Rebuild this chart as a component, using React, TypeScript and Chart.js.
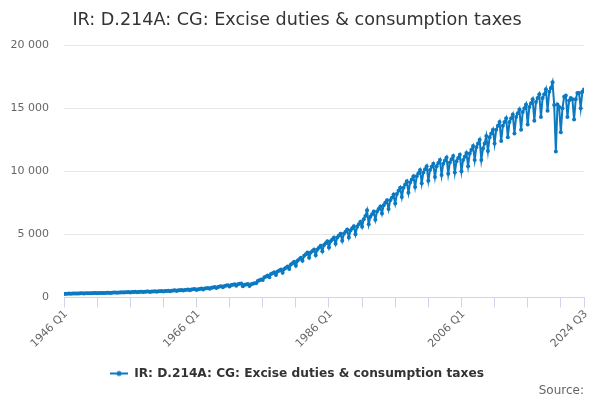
import { useEffect, useRef } from "react"
import { Chart, registerables } from "chart.js"

Chart.register(...registerables)

// quarterly values, £m (one row per year, Q1..Q4)
const excise: number[] = [
  270, 285, 290, 300, // 1946
  290, 305, 310, 315,
  300, 315, 320, 325,
  310, 320, 330, 335,
  320, 330, 340, 345, // 1950
  325, 345, 350, 355,
  340, 355, 365, 370,
  350, 370, 380, 385,
  365, 385, 395, 400,
  380, 400, 410, 420, // 1955
  395, 420, 430, 440,
  410, 435, 445, 455,
  420, 450, 460, 470,
  435, 465, 475, 490,
  450, 480, 495, 510, // 1960
  465, 500, 515, 530,
  490, 530, 545, 560,
  515, 560, 575, 590,
  540, 590, 610, 630,
  570, 620, 640, 665, // 1965
  590, 650, 675, 700,
  630, 700, 725, 750,
  680, 760, 790, 820,
  740, 830, 860, 890,
  800, 900, 935, 970, // 1970
  870, 980, 1010, 1050,
  930, 1050, 1080, 1110,
  890, 1000, 1030, 1060,
  900, 1050, 1090, 1130,
  1120, 1300, 1360, 1420, // 1975
  1380, 1600, 1660, 1740,
  1600, 1850, 1920, 2000,
  1780, 2050, 2130, 2220,
  1950, 2250, 2360, 2450,
  2250, 2600, 2700, 2820, // 1980
  2500, 2900, 3030, 3150,
  2900, 3300, 3420, 3550,
  3150, 3550, 3680, 3800,
  3350, 3800, 3950, 4100,
  3650, 4150, 4300, 4450, // 1985
  3950, 4450, 4600, 4750,
  4250, 4750, 4900, 5050,
  4500, 5050, 5200, 5380,
  4750, 5300, 5480, 5650,
  5000, 5600, 5800, 6000, // 1990
  5600, 6200, 6450, 6900,
  5800, 6400, 6600, 6800,
  6150, 6800, 7000, 7200,
  6650, 7300, 7500, 7700,
  7000, 7700, 7900, 8150, // 1995
  7450, 8200, 8450, 8700,
  7950, 8700, 8950, 9200,
  8300, 9100, 9350, 9600,
  8750, 9600, 9850, 10100,
  9050, 9900, 10150, 10400, // 2000
  9250, 10100, 10350, 10600,
  9550, 10400, 10650, 10900,
  9700, 10600, 10850, 11100,
  9800, 10700, 10950, 11200,
  9900, 10800, 11050, 11300, // 2005
  10000, 10900, 11150, 11450,
  10400, 11400, 11700, 12000,
  10900, 11900, 12200, 12500,
  10900, 11800, 12200, 12800,
  11600, 12700, 13000, 13300, // 2010
  12200, 13300, 13600, 13900,
  12400, 13600, 13900, 14200,
  12700, 13900, 14200, 14500,
  13000, 14300, 14600, 14900,
  13300, 14700, 15000, 15300, // 2015
  13700, 15100, 15400, 15700,
  14000, 15500, 15800, 16100,
  14300, 15800, 16100, 16500,
  14800, 16300, 16600, 17050,
  15250, 11570, 15300, 15100, // 2020
  13100, 15000, 15900, 16000,
  14300, 15600, 15800, 15700,
  14100, 15700, 16200, 16200,
  15000, 16300, 16480, // 2024 Q1..Q3
]

const startYear = 1946
const quarters: string[] = excise.map(
  (_, i) => `${startYear + Math.floor(i / 4)} Q${(i % 4) + 1}`
)
const tickStep = 20
const shownLabels = ["1946 Q1", "1966 Q1", "1986 Q1", "2006 Q1", "2024 Q3"]
const yTicks = [0, 5000, 10000, 15000, 20000]

const blue = "#0c7ac2"
const font = "'DejaVu Sans', sans-serif"

function legendIcon() {
  const c = document.createElement("canvas")
  c.width = 18
  c.height = 8
  const g = c.getContext("2d")
  if (g) {
    g.strokeStyle = blue
    g.lineWidth = 2
    g.beginPath()
    g.moveTo(0, 4)
    g.lineTo(18, 4)
    g.stroke()
    g.fillStyle = blue
    g.beginPath()
    g.arc(9, 4, 2.5, 0, Math.PI * 2)
    g.fill()
  }
  return c
}

// x labels are drawn here so the rotated first label can hang left of the plot
// without chart.js pushing the plot area to the right
const rotatedXLabels = {
  id: "rotatedXLabels",
  afterDraw(chart: Chart) {
    const scale = chart.scales.x
    const g = chart.ctx
    g.save()
    g.fillStyle = "#666666"
    g.font = `11px ${font}`
    g.textAlign = "right"
    g.textBaseline = "middle"
    quarters.forEach((q, i) => {
      if (!shownLabels.includes(q)) return
      const x = scale.getPixelForValue(i)
      g.save()
      g.translate(x + 2, scale.top + 15)
      g.rotate(-Math.PI / 4)
      g.fillText(q, 0, 0)
      g.restore()
    })
    g.restore()
  },
}

export default function App() {
  const chartRef = useRef<HTMLCanvasElement>(null)
  const chartInstance = useRef<Chart | null>(null)

  useEffect(() => {
    if (!chartRef.current) return
    if (chartInstance.current) chartInstance.current.destroy()
    const ctx = chartRef.current.getContext("2d")
    if (!ctx) return

    chartInstance.current = new Chart(ctx, {
      type: "line",
      data: {
        datasets: [
          {
            label: "IR: D.214A: CG: Excise duties & consumption taxes",
            data: excise.map((v, i) => ({ x: i, y: v })),
            borderColor: blue,
            backgroundColor: blue,
            borderWidth: 2,
            pointRadius: 2,
            pointBorderWidth: 0,
            tension: 0,
          },
        ],
      },
      options: {
        animation: false,
        responsive: true,
        maintainAspectRatio: false,
        layout: { padding: { left: 10, right: 16, top: 0, bottom: 2 } },
        scales: {
          x: {
            type: "linear",
            min: 0,
            max: quarters.length - 1,
            afterBuildTicks: (axis) => {
              const t = []
              for (let i = 0; i < quarters.length; i += tickStep) t.push({ value: i })
              t.push({ value: quarters.length - 1 })
              axis.ticks = t
            },
            ticks: { display: false },
            grid: {
              drawOnChartArea: false,
              color: "#ccd6eb",
              tickLength: 10,
            },
            border: { color: "#ccd6eb" },
          },
          y: {
            min: 0,
            max: 20000,
            afterBuildTicks: (axis) => {
              axis.ticks = yTicks.map((v) => ({ value: v }))
            },
            afterFit: (axis) => {
              axis.width = 54
            },
            ticks: {
              color: "#666666",
              padding: 15,
              font: { family: font, size: 11 },
              callback: (v) => String(v).replace(/\B(?=(\d{3})+(?!\d))/g, " "),
            },
            grid: { color: "#e6e6e6", drawTicks: false },
            border: { display: false },
          },
        },
        plugins: {
          title: {
            display: true,
            text: "IR: D.214A: CG: Excise duties & consumption taxes",
            color: "#333333",
            font: { family: font, size: 17.6, weight: "normal" },
            padding: { top: 10, bottom: 14 },
          },
          subtitle: {
            display: true,
            text: "Source:",
            position: "bottom",
            align: "end",
            color: "#666666",
            font: { family: font, size: 12 },
            padding: { top: -6, bottom: 0 },
          },
          legend: {
            position: "bottom",
            labels: {
              usePointStyle: true,
              pointStyle: legendIcon(),
              pointStyleWidth: 18,
              padding: 60,
              color: "#333333",
              font: { family: font, size: 12.2, weight: "bold" },
            },
          },
          tooltip: { enabled: false },
        },
      },
      plugins: [rotatedXLabels],
    })

    return () => {
      if (chartInstance.current) {
        chartInstance.current.destroy()
        chartInstance.current = null
      }
    }
  }, [])

  return (
    <div style={{ position: "absolute", left: 0, top: 0, width: 600, height: 400 }}>
      <canvas ref={chartRef} />
    </div>
  )
}
